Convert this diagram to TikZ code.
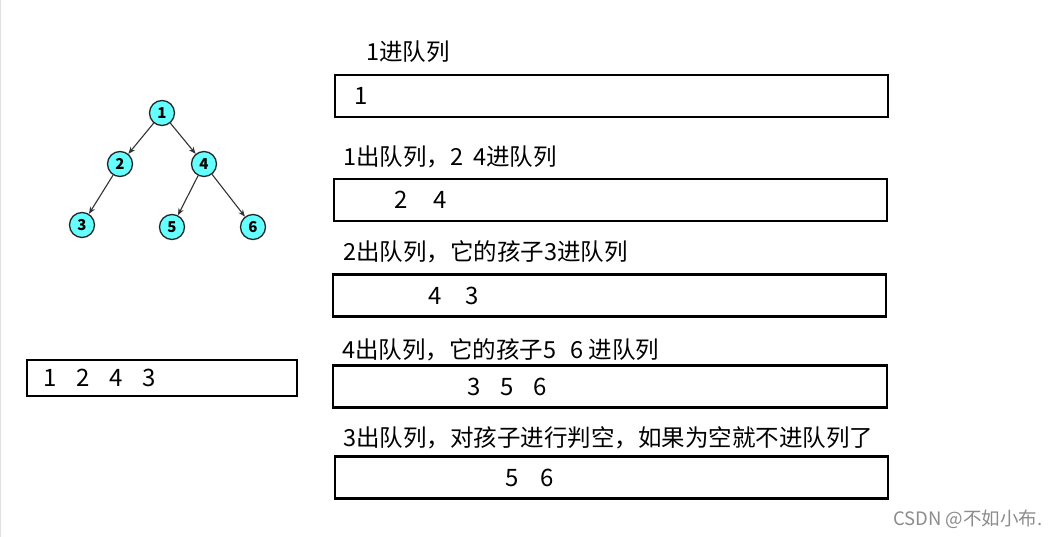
\documentclass[tikz,border=0pt]{standalone}
\usepackage{fontspec}
\setmainfont{Noto Sans CJK SC}
\usepackage{tikz}
\usetikzlibrary{arrows.meta}

\definecolor{nodecyan}{RGB}{100,255,255}

\tikzset{
  treenode/.style={circle, draw=black!85, line width=1.3pt, fill=nodecyan, minimum size=25pt, inner sep=0pt, font=\fontsize{15}{15}\selectfont\bfseries},
  treeedge/.style={-{Stealth[length=7pt,width=5.5pt]}, draw=black!80, line width=1.1pt},
  qbox/.style={draw=black, line width=2.4pt, minimum height=42pt, inner sep=0pt},
  steptext/.style={anchor=west, inner sep=0pt, font=\fontsize{23.5}{24}\selectfont},
  qtext/.style={anchor=west, inner sep=0pt, font=\fontsize{24}{24}\selectfont}
}

\begin{document}
\begin{tikzpicture}[x=1pt, y=-1pt]
		\useasboundingbox (0,0) rectangle (1060,537);
		\fill[white] (0,0) rectangle (1060,537);
		\draw[black!12, line width=1pt] (0.5,0) -- (0.5,537);
		
		% The binary tree
		\node[treenode] (t1) at (162,113) {1};
		\node[treenode] (t2) at (120,164) {2};
		\node[treenode] (t4) at (204,164) {4};
		\node[treenode] (t3) at (82,225) {3};
		\node[treenode] (t5) at (172,227) {5};
		\node[treenode] (t6) at (253,227) {6};
		\draw[treeedge] (t1) -- (t2);
		\draw[treeedge] (t1) -- (t4);
		\draw[treeedge] (t2) -- (t3);
		\draw[treeedge] (t4) -- (t5);
		\draw[treeedge] (t4) -- (t6);
		
		% Output sequence
		\node[qbox, minimum width=270pt, minimum height=36pt] (out) at (162,378) {};
		\node[qtext] (outtext) at ([xshift=17pt]out.west) {1\hspace{20pt}2\hspace{20pt}4\hspace{20pt}3};
		
		% Queue states, step by step
		\node[steptext] (s1) at (366,52) {1进队列};
		\node[qbox, minimum width=553pt] (q1) at (611.5,96) {};
		\node[qtext] (c1) at ([xshift=20pt]q1.west) {1};
		
		\node[steptext] (s2) at (343,157) {1出队列，2\hspace{10pt}4进队列};
		\node[qbox, minimum width=553pt] (q2) at (610.5,200) {};
		\node[qtext] (c2) at ([xshift=61pt]q2.west) {2\hspace{26pt}4};
		
		\node[steptext] (s3) at (343,252) {2出队列，它的孩子3进队列};
		\node[qbox, minimum width=553pt] (q3) at (609.5,295.5) {};
		\node[qtext] (c3) at ([xshift=96pt]q3.west) {4\hspace{24pt}3};
		
		\node[steptext] (s4) at (342,350) {4出队列，它的孩子5\hspace{14pt}6 进队列};
		\node[qbox, minimum width=554pt] (q4) at (610,386.5) {};
		\node[qtext] (c4) at ([xshift=135pt]q4.west) {3\hspace{20pt}5\hspace{20pt}6};
		
		\node[steptext] (s5) at (343,438) {3出队列，对孩子进行判空，如果为空就不进队列了};
		\node[qbox, minimum width=553pt] (q5) at (611.5,477.5) {};
		\node[qtext] (c5) at ([xshift=171pt]q5.west) {5\hspace{22pt}6};
		
		% Watermark
		\node[anchor=west, inner sep=0pt, text=black!45, font=\fontsize{18.5}{18.5}\selectfont] (wm) at (893,519) {CSDN @不如小布.};
	\end{tikzpicture}
\end{document}
